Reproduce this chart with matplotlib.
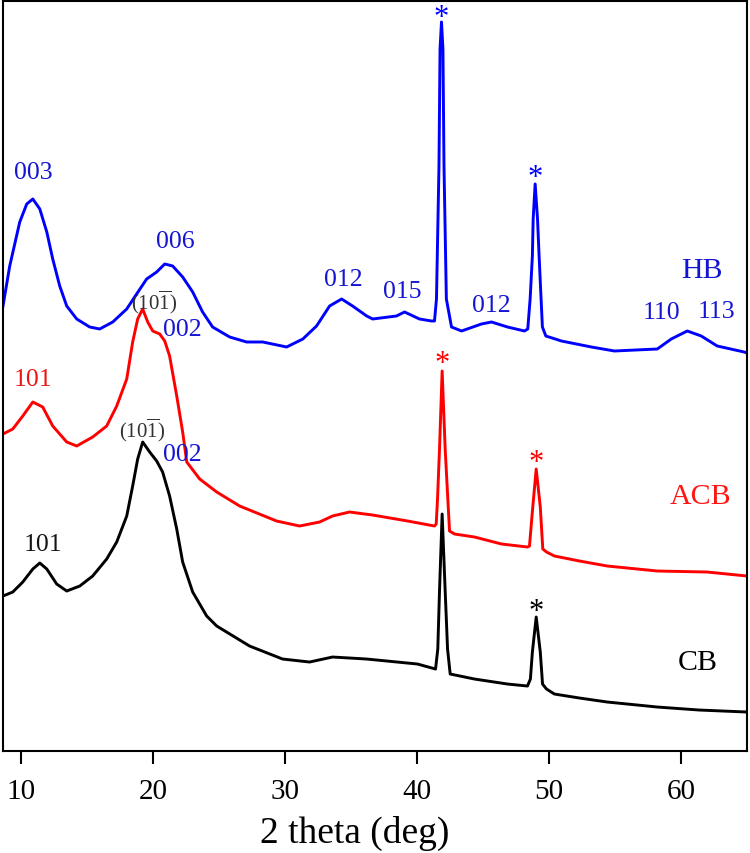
import numpy as np
import matplotlib
matplotlib.use("Agg")
from matplotlib import pyplot as plt

plt.rcParams['font.family'] = ['Liberation Serif', 'DejaVu Serif']
plt.rcParams['mathtext.fontset'] = 'custom'
plt.rcParams['mathtext.rm'] = 'Liberation Serif'

# 2 theta (deg) and stacked intensity (a.u., offsets included)
hb_x = [8.6, 9.11, 9.87, 10.40, 10.86, 11.39, 11.92, 12.37, 12.90, 13.43, 14.19, 15.17, 15.93,
        16.92, 17.98, 18.73, 19.49, 20.25, 20.86, 21.46, 22.22, 22.98, 23.73, 24.49, 25.78,
        27.07, 28.29, 30.10, 31.33, 32.37, 33.36, 34.27, 35.10, 36.17, 36.62, 38.43, 39.04,
        40.17, 41.08, 41.31, 41.46, 41.65, 41.73, 41.84, 41.95, 42.03, 42.21, 42.60, 43.36,
        44.87, 45.63, 46.84, 48.13, 48.38, 48.56, 48.73, 48.79, 48.94, 49.12, 49.24, 49.39,
        49.49, 49.75, 50.93, 53.20, 54.95, 58.20, 59.26, 60.47, 61.53, 62.74, 64.78, 65.0]
hb_y = [445, 485, 529, 547, 552, 542, 519, 492, 465, 445, 432, 424, 422,
        429, 442, 457, 472, 479, 487, 485, 474, 459, 439, 424, 414,
        409, 409, 404, 412, 425, 445, 452, 445, 435, 432, 435, 439,
        432, 430, 430, 452, 585, 702, 729, 702, 585, 452, 424, 420,
        427, 429, 424, 420, 422, 452, 495, 532, 567, 532, 495, 452,
        424, 415, 410, 404, 400, 402, 412, 420, 415, 405, 399, 398]

acb_x = [8.6, 9.34, 10.10, 10.86, 11.61, 12.37, 13.43, 14.19, 15.40, 16.46, 17.22, 17.98, 18.43,
         18.81, 19.19, 19.57, 19.95, 20.48, 20.86, 21.23, 21.77, 22.22, 22.53, 23.51, 24.80,
         26.54, 29.34, 31.08, 32.60, 33.58, 34.87, 36.61, 39.27, 41.31, 41.44, 41.54, 41.69,
         41.89, 42.12, 42.32, 42.45, 42.83, 44.34, 46.39, 48.36, 48.51, 48.76, 49.02, 49.33,
         49.52, 49.80, 50.40, 52.30, 54.41, 58.20, 61.98, 65.0]
acb_y = [317, 322, 335, 349, 344, 325, 309, 305, 314, 325, 345, 372, 409,
         432, 442, 429, 420, 417, 410, 395, 355, 319, 289, 272, 259,
         245, 230, 225, 229, 235, 239, 236, 230, 225, 227, 252, 302,
         380, 302, 252, 220, 217, 214, 207, 204, 205, 244, 282, 244,
         202, 199, 195, 190, 185, 180, 179, 175]

cb_x = [8.6, 9.34, 10.10, 10.86, 11.39, 11.92, 12.67, 13.43, 14.42, 15.40, 16.46, 17.22, 17.98,
        18.43, 18.81, 19.19, 19.72, 20.25, 20.70, 21.23, 21.77, 22.22, 22.98, 24.04, 24.80,
        27.29, 29.79, 31.84, 33.58, 36.16, 40.02, 41.39, 41.56, 41.69, 41.89, 42.12, 42.30,
        42.50, 44.34, 46.84, 48.36, 48.58, 48.73, 49.02, 49.33, 49.50, 49.80, 50.40, 52.30,
        54.41, 58.20, 61.38, 65.0]
cb_y = [155, 159, 169, 182, 188, 182, 167, 160, 165, 175, 192, 209, 235,
        265, 292, 309, 299, 290, 279, 255, 222, 189, 159, 135, 125,
        105, 92, 89, 94, 92, 87, 82, 102, 160, 237, 160, 102,
        77, 72, 67, 65, 72, 99, 134, 99, 67, 62, 57, 53,
        49, 44, 41, 39]

hb_labels = [('003', 10.86, 579), ('006', 21.69, 510), ('012', 34.36, 472), ('015', 38.89, 460),
             ('012', 45.63, 446), ('110', 58.5, 439), ('113', 62.67, 440),
             ('002', 22.22, 422), ('002', 22.22, 297)]
plane_labels = [(20.03, 450), (19.11, 322)]
stars = [(41.84, 733, 'blue'), (48.94, 573, 'blue'), (41.89, 387, 'red'),
         (49.0, 289, 'red'), (49.0, 140, 'black')]

fig = plt.figure(figsize=(7.5, 8.54), dpi=100)
ax = fig.add_axes([0.004, 0.1194, 0.992, 0.8783])

ax.plot(hb_x, hb_y, color='#0000ff', lw=2.1)
ax.plot(acb_x, acb_y, color='#ff0000', lw=2.1)
ax.plot(cb_x, cb_y, color='black', lw=2.1)

for t, x, y in hb_labels:
    ax.text(x, y, t, color='#1414d2', fontsize=18.5, ha='center', va='center')
ax.text(10.86, 372, '101', color='#ee1414', fontsize=18.5, ha='center', va='center')
ax.text(11.61, 207, '101', color='#141414', fontsize=18.5, ha='center', va='center')
for x, y in plane_labels:
    ax.text(x, y, r'$\mathregular{(10\overline{1})}$', color='#333333', fontsize=15,
            ha='center', va='center')

for x, y, c in stars:
    ax.text(x, y, '*', color=c, fontsize=22, ha='center', va='center')

ax.text(61.6, 481, 'HB', color='#1414d2', fontsize=21.5, ha='center', va='center')
ax.text(61.46, 255, 'ACB', color='#ff1414', fontsize=21.5, ha='center', va='center')
ax.text(61.3, 89, 'CB', color='black', fontsize=21.5, ha='center', va='center')

ax.set_xlim(8.6, 65)
ax.set_ylim(0, 750)
ax.set_xticks([10, 20, 30, 40, 50, 60])
ax.set_yticks([])
ax.tick_params(axis='x', direction='out', length=9.5, width=1.5, labelsize=21, pad=10)
for s in ax.spines.values():
    s.set_linewidth(1.5)
ax.set_xlabel('2 theta (deg)', fontsize=27, labelpad=8, x=0.473)

fig.savefig('out.png', dpi=100)
